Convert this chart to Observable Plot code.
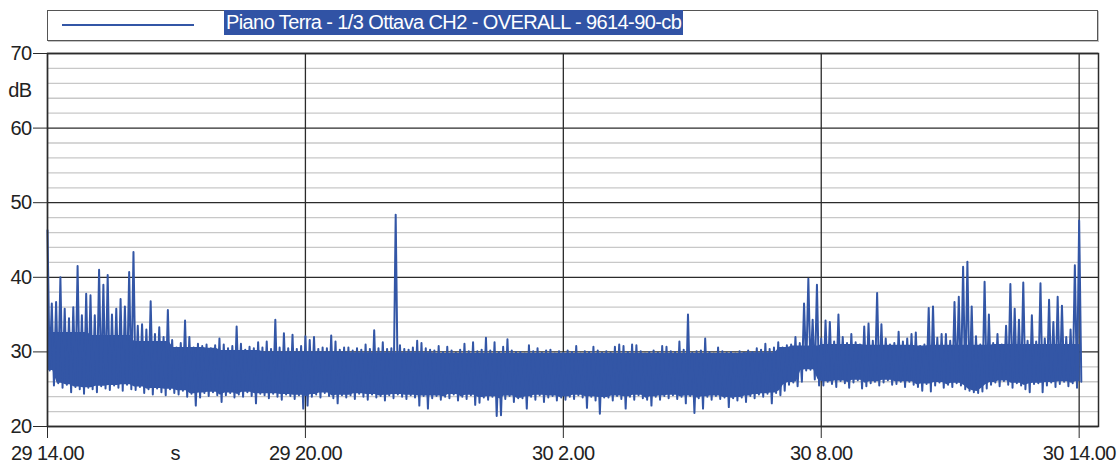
<!DOCTYPE html>
<html>
<head>
<meta charset="utf-8">
<script src="https://cdn.jsdelivr.net/npm/d3@7"></script>
<script src="https://cdn.jsdelivr.net/npm/@observablehq/plot@0.6"></script>
<style>
  body { margin: 0; background: #fff; font-family: "Liberation Sans", Arial, sans-serif; }
  #legend { position: relative; margin: 10px 0 0 47px; width: 1049px; height: 29px;
            border: 1px solid #555; box-shadow: 1px 1px 0 #c4c4c4; }
  #legend .sample { position: absolute; left: 14px; top: 13px; width: 132px; height: 2px; background: #3356a6; }
  #legend .name { position: absolute; left: 176px; top: -1px; height: 25px; line-height: 25px;
                  padding: 0 2px; background: #3153a5; color: #fff; font-size: 20px;
                  letter-spacing: -0.6px; white-space: nowrap; }
</style>
</head>
<body>
<div id="legend"><div class="sample"></div><span class="name" id="seriesName"></span></div>
<div id="chart"></div>
<script>
// ---- data ----
const seriesName = "Piano Terra - 1/3 Ottava CH2 - OVERALL - 9614-90-cb";
const seriesColor = "#3356a6";
const binHours = 0.1; // one bin = 6 minutes, hours since 29 14.00

// upper envelope (peak) of each 6-minute bin, dB
const hiDb = [
  46.3, 36.5, 36.7, 40.0, 35.8, 34.5, 36.0, 41.5, 34.9, 37.8,
  37.6, 34.9, 41.0, 39.0, 40.3, 35.0, 35.8, 37.1, 36.1, 40.7,
  43.4, 33.5, 33.7, 33.0, 36.8, 32.4, 33.3, 32.0, 35.6, 31.6,
  30.6, 31.2, 34.2, 32.0, 30.6, 31.1, 30.8, 31.0, 30.5, 30.9,
  31.8, 31.0, 30.5, 30.8, 33.4, 31.1, 30.3, 30.7, 30.5, 31.3,
  30.6, 31.4, 30.4, 34.3, 30.6, 32.5, 30.5, 32.3, 30.4, 30.8,
  32.1, 31.6, 32.0, 30.4, 30.6, 30.5, 32.2, 31.4, 30.3, 30.6,
  30.6, 30.2, 30.5, 30.3, 31.0, 30.4, 32.9, 30.5, 31.3, 30.4,
  30.5, 48.4, 30.9, 30.4, 30.3, 30.6, 31.5, 31.2, 30.5, 30.3,
  30.2, 30.8, 30.0, 30.7, 30.2, 29.9, 30.3, 31.1, 30.1, 31.3,
  30.1, 30.3, 31.9, 30.2, 31.3, 30.0, 30.7, 31.7, 30.2, 30.0,
  30.0, 29.8, 30.9, 30.1, 30.5, 29.9, 30.2, 30.3, 29.8, 30.1,
  29.9, 30.2, 30.0, 30.8, 29.8, 30.1, 30.0, 30.7, 30.2, 29.9,
  30.1, 29.9, 30.7, 31.0, 30.8, 30.0, 31.0, 30.9, 30.1, 29.8,
  30.0, 30.2, 29.9, 30.8, 30.7, 30.1, 30.0, 31.4, 30.3, 35.0,
  29.9, 30.1, 30.2, 31.8, 30.0, 29.8, 30.6, 30.1, 29.9, 30.0,
  29.8, 30.1, 29.9, 30.2, 30.0, 30.5, 30.3, 31.1, 30.4, 30.6,
  31.3, 30.6, 30.9, 31.0, 32.0, 31.2, 36.5, 39.8, 34.3, 39.0,
  31.8, 34.2, 34.0, 31.4, 35.0, 32.0, 31.2, 32.4, 31.3, 31.0,
  33.4, 33.8, 31.5, 37.9, 33.7, 31.8, 31.0, 31.2, 32.7, 31.4,
  31.8, 32.4, 32.6, 30.8, 31.0, 35.9, 36.1, 31.9, 32.4, 32.4,
  31.5, 36.7, 37.4, 41.4, 42.1, 36.1, 32.1, 31.0, 39.4, 35.0,
  31.2, 32.4, 31.0, 33.5, 39.1, 35.8, 34.3, 39.3, 31.5, 34.9,
  31.4, 39.2, 31.8, 37.0, 34.0, 37.4, 36.2, 32.0, 33.0, 41.6,
  47.6
];

// lower envelope (minimum) of each 6-minute bin, dB
const loDb = [
  27.5, 25.5, 25.8, 25.2, 25.6, 24.6, 25.3, 25.0, 24.4, 25.2,
  25.0, 24.6, 25.4, 25.1, 24.9, 25.5, 25.2, 24.8, 25.6, 25.0,
  24.9, 25.3, 24.5, 25.0, 24.3, 25.1, 24.6, 24.2, 25.0, 24.5,
  24.3, 24.8, 24.0, 24.4, 22.8, 23.9, 24.5, 24.1, 24.6, 24.2,
  23.3, 24.2, 24.5, 23.9, 24.3, 24.0, 24.6, 24.1, 23.1, 24.4,
  24.2, 23.8, 24.4, 24.0, 23.6, 24.3, 24.1, 23.7, 24.2, 22.4,
  22.8, 24.0, 24.3, 23.9, 24.5, 24.1, 23.8, 23.1, 24.2, 23.9,
  24.2, 23.7, 24.4, 24.0, 23.6, 24.3, 23.9, 24.1, 23.5, 24.2,
  23.8, 24.3, 24.0, 23.7, 24.2, 23.9, 22.8, 24.1, 22.4, 23.8,
  24.1, 23.6, 24.0, 23.8, 24.3, 23.5, 24.0, 23.7, 24.2, 22.9,
  23.2, 23.9, 23.6, 24.0, 21.4, 21.5, 23.7, 24.1, 23.3, 23.8,
  23.8, 22.4, 24.0, 23.6, 24.2, 23.3, 23.9, 24.1, 23.5, 23.9,
  23.6, 24.0, 23.7, 24.2, 23.9, 22.5, 24.0, 23.5, 21.7, 23.9,
  23.9, 23.5, 24.1, 23.7, 22.4, 24.0, 23.6, 24.2, 23.8, 23.6,
  22.8, 24.0, 23.6, 24.1, 23.8, 24.2, 23.7, 24.0, 23.1, 24.1,
  21.8, 23.8, 22.4, 24.0, 23.6, 24.1, 23.7, 23.9, 22.6, 23.8,
  23.5, 23.9, 23.3, 24.1, 23.8, 24.3, 24.0, 24.4, 23.1, 24.5,
  24.2, 24.8, 25.6, 25.9, 25.4, 26.0, 27.5, 27.6, 26.3, 25.5,
  25.5, 26.0, 25.7, 25.3, 26.1, 25.8, 25.2, 25.9, 26.2, 25.1,
  25.4, 25.8, 26.0, 25.5, 25.9, 26.2, 25.6, 25.7, 26.0, 25.3,
  26.0, 25.6, 25.3, 24.8, 25.7, 24.7, 25.5, 25.9, 25.2, 25.6,
  25.3, 25.8, 25.5, 25.0, 24.8, 24.6, 24.5, 24.7, 25.1, 25.6,
  25.9, 25.4, 26.1, 25.6, 25.2, 25.8, 25.5, 25.0, 24.6, 25.7,
  25.8, 24.6, 25.5, 25.9, 25.3, 25.7, 26.0, 25.4, 25.8, 25.2,
  26.0
];

// top of the dense (solid) part of the trace, one value per hour, dB
const bandTopDb = [
  32.6, 32.2, 31.4, 30.6, 30.2, 30.0, 30.0, 29.9, 29.9, 29.8, 29.8, 29.8,
  29.8, 29.8, 29.8, 29.8, 29.9, 30.8, 31.0, 30.9, 30.9, 30.9, 31.0, 31.0, 31.0
];

const xTickHours = [0, 6, 12, 18, 24];
const xTickLabels = ["29 14.00", "29 20.00", "30 2.00", "30 8.00", "30 14.00"];
const xUnit = {text: "s", hour: 2.97};
const yMajorDb = [20, 30, 40, 50, 60, 70];
const yMinorDb = [22, 24, 26, 28, 32, 34, 36, 38, 42, 44, 46, 48, 52, 54, 56, 58, 62, 64, 66, 68];
const yUnit = {text: "dB", db: 65};
const xDomain = [0, 24.45];
const yDomain = [20, 70];

// ---- build the trace: each bin contributes its peak then its minimum ----
const trace = [];
hiDb.forEach((h, i) => {
  trace.push({t: i * binHours, v: h});
  trace.push({t: i * binHours + binHours / 2, v: loDb[i]});
});
// dense core of the signal: the band that every neighbouring bin covers
const core = hiDb.map((h, i) => {
  const a = Math.max(0, i - 1), b = Math.min(hiDb.length - 1, i + 1);
  const t = i * binHours + binHours / 4;
  return {
    t,
    top: Math.min(hiDb[a], h, hiDb[b], bandTopDb[Math.floor(i * binHours + 1e-9)]),
    bottom: Math.max(loDb[a], loDb[i], loDb[b])
  };
});

document.getElementById("seriesName").textContent = seriesName;

const chart = Plot.plot({
  width: 1120,
  height: 425,
  marginLeft: 47,
  marginRight: 22,
  marginTop: 12,
  marginBottom: 40,
  style: {fontFamily: "Liberation Sans, Arial, sans-serif", fontSize: "20px", letterSpacing: "-0.6px", color: "#222", background: "#fff"},
  x: {domain: xDomain},
  y: {domain: yDomain},
  marks: [
    Plot.ruleY(yMinorDb, {stroke: "#c8c8c8", strokeWidth: 1.3}),
    Plot.ruleY(yMajorDb, {stroke: "#2b2b2b", strokeWidth: 1.3}),
    Plot.ruleX(xTickHours, {stroke: "#2b2b2b", strokeWidth: 1.3}),
    Plot.areaY(core, {x: "t", y1: "bottom", y2: "top", fill: seriesColor}),
    Plot.line(trace, {x: "t", y: "v", stroke: seriesColor, strokeWidth: 2}),
    Plot.frame({stroke: "#2b2b2b", strokeWidth: 1.5}),
    Plot.axisY({ticks: yMajorDb, tickSize: 14, tickPadding: 2, fontSize: 20, stroke: "#2b2b2b", label: null}),
    Plot.axisX({ticks: xTickHours, tickSize: 12, tickPadding: 7, fontSize: 20, stroke: "#2b2b2b", label: null,
                tickFormat: d => xTickLabels[xTickHours.indexOf(d)]}),
    Plot.text([xUnit], {x: "hour", text: "text", frameAnchor: "bottom", dy: 19, lineAnchor: "top", fontSize: 20, fill: "#222"}),
    Plot.text([yUnit], {y: "db", text: "text", frameAnchor: "left", dx: -16, textAnchor: "end", fontSize: 20, fill: "#222"})
  ]
});
document.getElementById("chart").appendChild(chart);
</script>
</body>
</html>
